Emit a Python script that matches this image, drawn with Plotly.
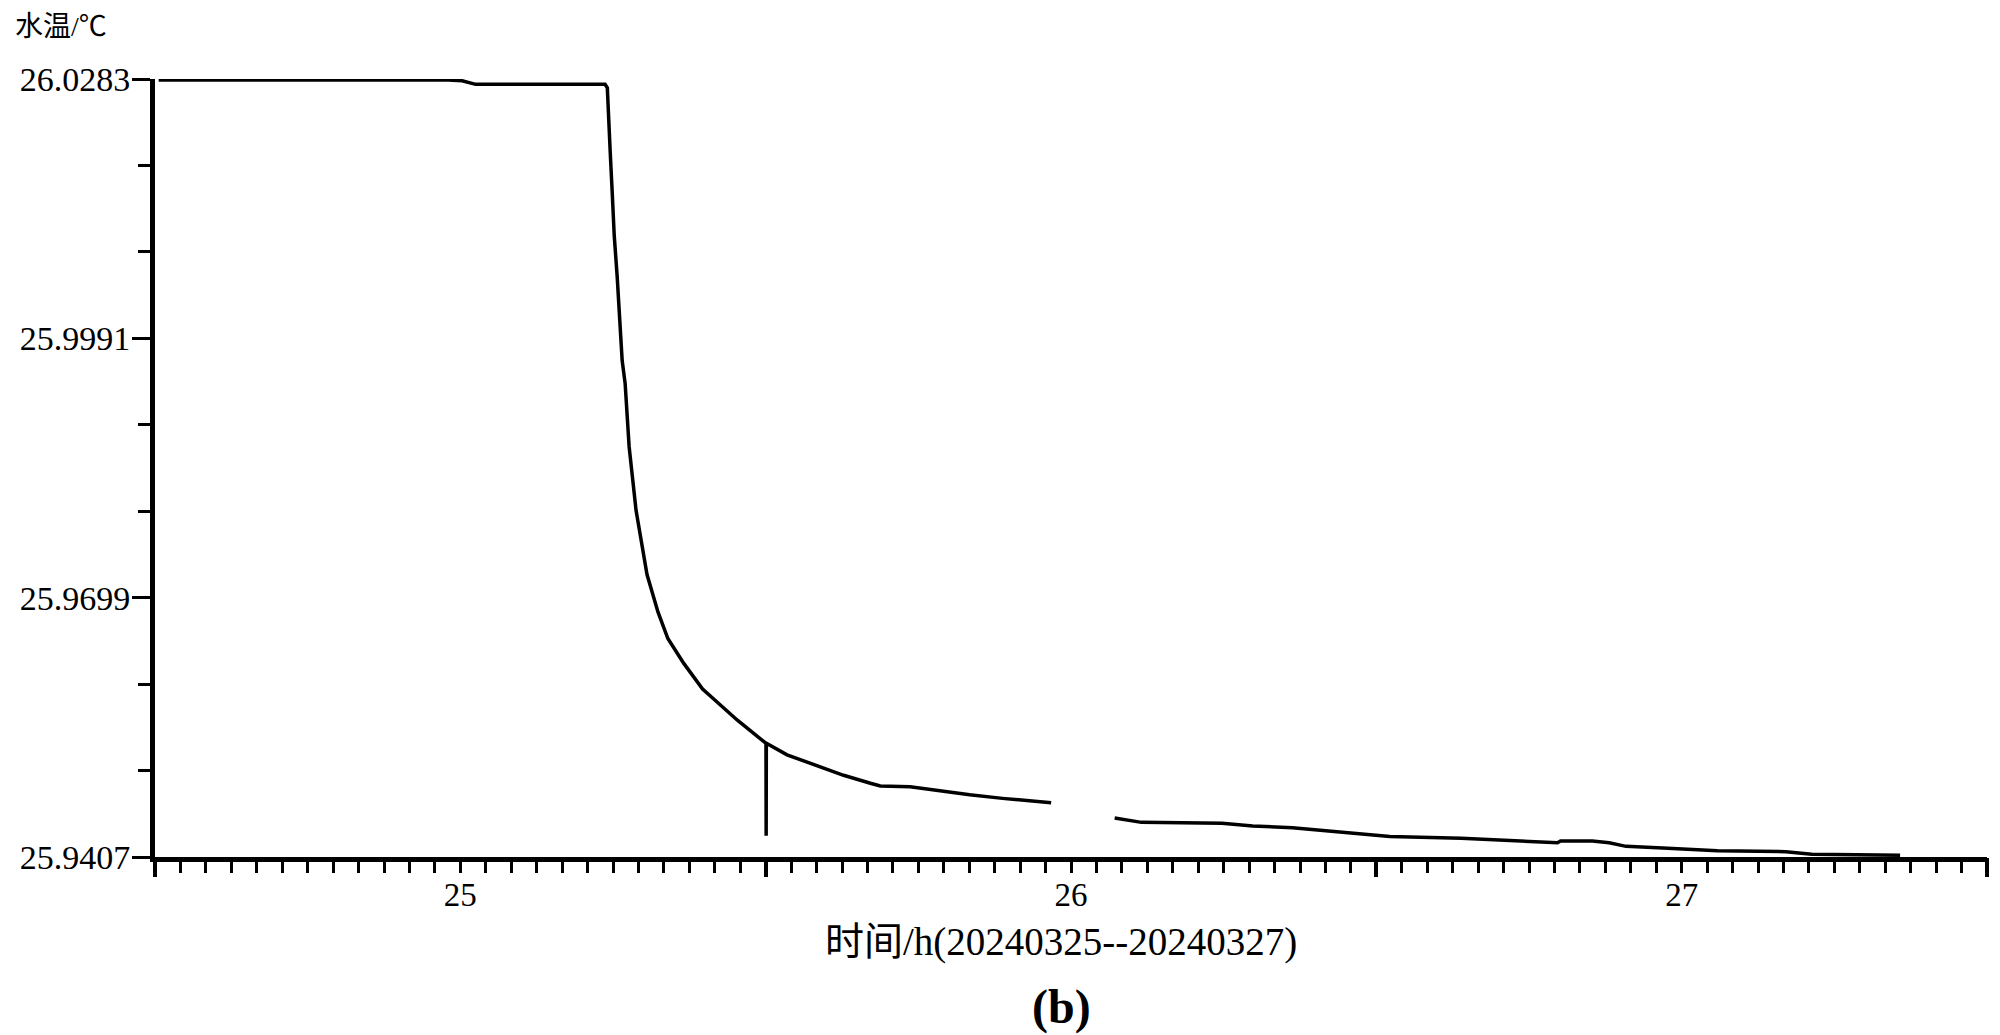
import plotly.graph_objects as go

# time in days (day of month), water temperature in deg C
time_day = [
    24.506, 24.60, 24.70, 24.80, 24.90, 24.98, 25.003, 25.025, 25.10, 25.20, 25.237,
    25.2407, 25.2423, 25.2455, 25.2488, 25.2520, 25.2569, 25.2602, 25.2650, 25.2699,
    25.2764, 25.2878, 25.3057, 25.3236, 25.3398, 25.3659, 25.3967, 25.4163, 25.4537,
    25.5005, 25.5008, 25.5011, 25.5350, 25.5902, 25.6276, 25.6715, 25.6878, 25.7366,
    25.7789, 25.8341, 25.8878, 25.9675,
    None,
    26.0715, 26.1154, 26.2472, 26.2976, 26.3626, 26.4098, 26.4520, 26.4846, 26.5220,
    26.6390, 26.7268, 26.7967, 26.8016, 26.8537, 26.8813, 26.9089, 26.9691, 27.0585,
    27.1707, 27.2130, 27.3577,
]
water_temp = [
    26.0282, 26.0282, 26.0282, 26.0282, 26.0282, 26.0282, 26.0281, 26.0277, 26.0277, 26.0277, 26.0277,
    26.0273, 26.0244, 26.0200, 26.0154, 26.0107, 26.0060, 26.0015, 25.9966, 25.9940,
    25.9869, 25.9797, 25.9725, 25.9683, 25.9653, 25.9625, 25.9596, 25.9584, 25.9561,
    25.9535, 25.9431, 25.9535, 25.9522, 25.9508, 25.9499, 25.9490, 25.9487, 25.9486,
    25.9482, 25.9477, 25.9473, 25.9468,
    None,
    25.9451, 25.9446, 25.9445, 25.9442, 25.9440, 25.9437, 25.9435, 25.9433, 25.9430,
    25.9428, 25.9425, 25.9423, 25.9425, 25.9425, 25.9423, 25.9419, 25.9417, 25.9414,
    25.9413, 25.9410, 25.9409,
]

y_tickvals = [25.9407, 25.9699, 25.9991, 26.0283]
y_ticktext = ["25.9407", "25.9699", "25.9991", "26.0283"]
x_tickvals = [25, 26, 27]
x_ticktext = ["25", "26", "27"]
x_long_ticks = [24.5, 25.5, 26.5, 27.5]

FONT = "Liberation Serif, Noto Sans CJK SC, serif"

fig = go.Figure()
fig.add_trace(go.Scatter(
    x=time_day, y=water_temp, mode="lines",
    line=dict(color="black", width=3.5),
    connectgaps=False, hoverinfo="skip", showlegend=False,
))

# page body adds an 8px margin, so the figure is 8px smaller and margins compensate
fig.update_layout(
    width=1992, height=1027,
    margin=dict(l=142, r=13, t=71, b=178),
    paper_bgcolor="white", plot_bgcolor="white",
    font=dict(family=FONT, color="black", size=34),
    xaxis=dict(
        range=[24.5, 27.5], showgrid=False, zeroline=False,
        showline=True, linecolor="black", linewidth=5,
        tickvals=x_tickvals, ticktext=x_ticktext,
        ticks="outside", ticklen=11, tickwidth=3, tickcolor="black",
        tickfont=dict(size=33, family=FONT), ticklabelstandoff=-7,
        minor=dict(tick0=24.5, dtick=1/24, ticks="outside", ticklen=11,
                   tickwidth=3, tickcolor="black", showgrid=False),
    ),
    xaxis2=dict(
        overlaying="x", matches="x", anchor="y", side="bottom",
        range=[24.5, 27.5], showgrid=False, zeroline=False, showline=False,
        tickvals=x_long_ticks, showticklabels=False,
        ticks="outside", ticklen=19, tickwidth=4, tickcolor="black",
    ),
    yaxis=dict(
        range=[25.9407, 26.0283], showgrid=False, zeroline=False,
        showline=True, linecolor="black", linewidth=5,
        tickvals=y_tickvals, ticktext=y_ticktext,
        ticks="outside", ticklen=18, tickwidth=3, tickcolor="black",
        tickfont=dict(size=34, family=FONT), ticklabelstandoff=-5,
        minor=dict(tick0=25.9407, dtick=0.0292/3, ticks="outside", ticklen=12,
                   tickwidth=3, tickcolor="black", showgrid=False),
    ),
    annotations=[
        dict(text="水温/℃", xref="paper", yref="paper", x=0, y=1,
             xanchor="left", yanchor="top", xshift=-142, yshift=70,
             showarrow=False, font=dict(size=28, family=FONT)),
        dict(text="时间/h(20240325--20240327)", xref="paper", yref="paper",
             x=0.5, y=0, xanchor="center", yanchor="middle", xshift=-10, yshift=-85,
             showarrow=False, font=dict(size=39, family=FONT)),
        dict(text="<b>(b)</b>", xref="paper", yref="paper",
             x=0.5, y=0, xanchor="center", yanchor="middle", xshift=-10, yshift=-150,
             showarrow=False, font=dict(size=48, family=FONT)),
    ],
)

# invisible trace so the overlay axis (long half-day ticks) renders
fig.add_trace(go.Scatter(x=[24.5], y=[25.95], xaxis="x2", mode="markers",
                         marker=dict(opacity=0), hoverinfo="skip", showlegend=False))

fig.write_html("out.html")
